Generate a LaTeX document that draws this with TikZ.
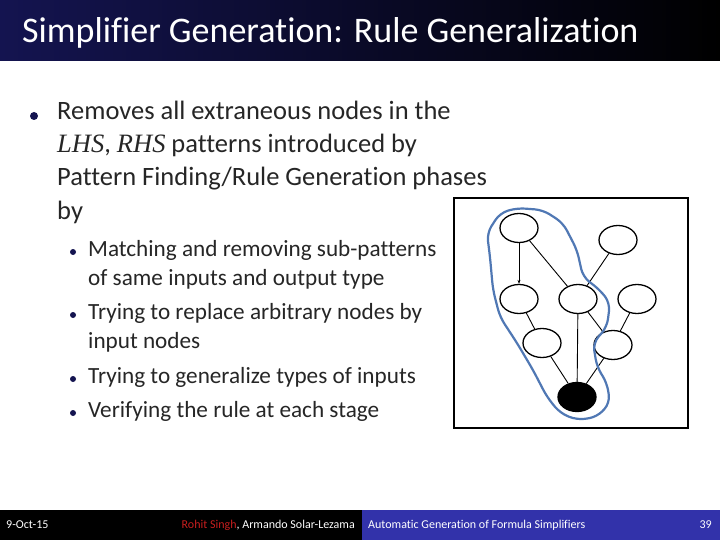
\documentclass[tikz,border=0pt]{standalone}
\usepackage{fontspec}
\setmainfont{Carlito}[Ligatures=NoCommon]
\newfontfamily\mathserif{Liberation Serif}
\usetikzlibrary{arrows.meta,shapes.geometric}
\definecolor{navy}{RGB}{20,20,80}
\definecolor{blob}{RGB}{80,120,180}
\definecolor{footblue}{RGB}{50,50,170}
\definecolor{redname}{RGB}{200,30,30}
\tikzset{
  gn/.style={draw,line width=1.3pt,ellipse,minimum width=38pt,minimum height=29pt,inner sep=0pt},
  ge/.style={line width=0.9pt},
  mainb/.style={anchor=base west,font=\fontsize{26.5}{30}\selectfont,inner sep=0pt,text=black!85},
  subb/.style={anchor=base west,font=\fontsize{23.2}{28}\selectfont,inner sep=0pt,text=black!85},
  dot/.style={circle,fill=navy,inner sep=0pt,minimum size=#1},
  foot/.style={text=white,font=\fontsize{12}{14}\selectfont,inner sep=0pt},
}
\begin{document}
\begin{tikzpicture}[x=1pt,y=-1pt]
\useasboundingbox (0,0) rectangle (720,540);
\fill[white] (0,0) rectangle (720,540);
\shade[left color=navy,right color=black] (0,0) rectangle (720,61);
\node[anchor=base west,text=white,font=\fontsize{36}{40}\selectfont,inner sep=0pt] (title) at (22,43) {Simplifier Generation: Rule Generalization};
% bullets
\node[dot=8pt] (b0) at (34,116) {};
\node[mainb] (t0a) at (57,120) {Removes all extraneous nodes in the};
\node[mainb] (t0b) at (57,153) {{\mathserif\itshape LHS}, {\mathserif\itshape RHS} patterns introduced by};
\node[mainb] (t0c) at (57,186) {Pattern Finding/Rule Generation phases};
\node[mainb] (t0d) at (57,219) {by};
\node[dot=6pt] (b1) at (73,252) {};
\node[subb] (t1a) at (88,256) {Matching and removing sub-patterns};
\node[subb] (t1b) at (88,285) {of same inputs and output type};
\node[dot=6pt] (b2) at (73,315) {};
\node[subb] (t2a) at (88,319) {Trying to replace arbitrary nodes by};
\node[subb] (t2b) at (88,348) {input nodes};
\node[dot=6pt] (b3) at (73,379) {};
\node[subb] (t3) at (88,383) {Trying to generalize types of inputs};
\node[dot=6pt] (b4) at (73,413) {};
\node[subb] (t4) at (88,417) {Verifying the rule at each stage};
% graph box
\draw[line width=2.5pt] (454,198) rectangle (688,428);
\node[gn] (A) at (519,228) {};
\node[gn] (B) at (618,240) {};
\node[gn] (C) at (519,299) {};
\node[gn] (D) at (578,299) {};
\node[gn] (E) at (637,299) {};
\node[gn] (F) at (542,343) {};
\node[gn] (G) at (613,345) {};
\node[gn,fill=black] (H) at (577,397) {};
\draw[ge,-{Stealth[length=4pt]}] (A) -- (C);
\draw[ge] (A) -- (D);
\draw[ge] (B) -- (D);
\draw[ge] (C) -- (F);
\draw[ge] (D) -- (H);
\draw[ge] (D) -- (G);
\draw[ge] (E) -- (G);
\draw[ge] (F) -- (H);
\draw[ge] (G) -- (H);
\draw[blob,line width=2.2pt,rounded corners=8pt] (500,213) -- (517,208) -- (543,210) -- (563,223) -- (577,250) -- (583,277) -- (600,290) -- (610,303) -- (607,327) -- (593,343) -- (597,367) -- (607,383) -- (610,403) -- (597,417) -- (577,420) -- (560,413) -- (547,397) -- (533,370) -- (517,343) -- (500,317) -- (493,290) -- (490,257) -- (487,233) -- cycle;
% footer
\fill[black] (0,510) rectangle (362,540);
\fill[footblue] (362,510) rectangle (720,540);
\node[foot,anchor=west] (date) at (6,525) {9-Oct-15};
\node[foot,anchor=east] (auth) at (355,525) {\textcolor{redname}{Rohit Singh}, Armando Solar-Lezama};
\node[foot,anchor=west] (ftitle) at (368,525) {Automatic Generation of Formula Simplifiers};
\node[foot,anchor=east] (page) at (712,525) {39};
\end{tikzpicture}
\end{document}
